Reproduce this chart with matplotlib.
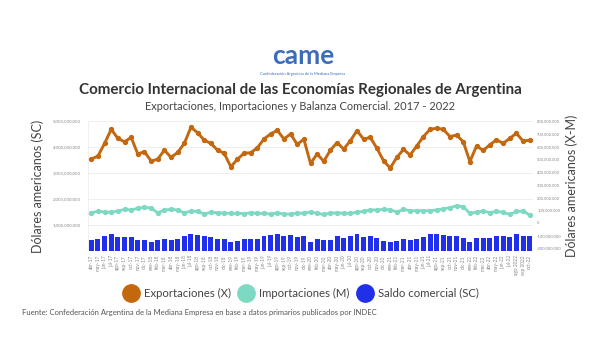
import numpy as np
import matplotlib
matplotlib.use("Agg")
import matplotlib.pyplot as plt
from matplotlib.lines import Line2D
from matplotlib.ticker import FuncFormatter, FixedLocator

plt.rcParams['font.family'] = ['Lato', 'DejaVu Sans']

# meses abr-17 .. oct-22
meses_es = ["ene", "feb", "mar", "abr", "may", "jun", "jul", "ago", "sep", "oct", "nov", "dic"]
etiquetas = []
for anio in range(2017, 2023):
    for m in range(12):
        if anio == 2017 and m < 3:
            continue
        if anio == 2022 and m > 9:
            continue
        etiquetas.append(f"{meses_es[m]}-{str(anio)[2:]}")
etiquetas[-3] = "ago 2022"
etiquetas[-2] = "sep 2022"

# Exportaciones (X), miles de millones USD
exportaciones = [3.54, 3.65, 4.14, 4.68, 4.33, 4.20, 4.37, 3.73, 3.82, 3.46,
                 3.53, 3.88, 3.60, 3.79, 4.14, 4.76, 4.55, 4.26, 4.14, 3.88,
                 3.76, 3.24, 3.53, 3.76, 3.78, 3.97, 4.31, 4.50, 4.64, 4.31,
                 4.50, 4.10, 4.30, 3.37, 3.73, 3.45, 3.88, 4.17, 3.92, 4.24,
                 4.63, 4.30, 4.37, 3.95, 3.47, 3.19, 3.60, 3.91, 3.69, 4.04,
                 4.40, 4.68, 4.72, 4.68, 4.40, 4.46, 4.20, 3.44, 4.04, 3.87,
                 4.08, 4.28, 4.14, 4.33, 4.53, 4.23, 4.26]

# Importaciones (M)
importaciones = [1.47, 1.53, 1.50, 1.49, 1.54, 1.60, 1.58, 1.64, 1.68, 1.65,
                 1.47, 1.58, 1.60, 1.58, 1.47, 1.53, 1.53, 1.42, 1.49, 1.47,
                 1.46, 1.45, 1.45, 1.44, 1.47, 1.45, 1.45, 1.42, 1.47, 1.42,
                 1.42, 1.45, 1.46, 1.50, 1.45, 1.41, 1.45, 1.47, 1.45, 1.45,
                 1.49, 1.53, 1.58, 1.58, 1.60, 1.58, 1.50, 1.60, 1.55, 1.55,
                 1.55, 1.55, 1.58, 1.62, 1.67, 1.74, 1.70, 1.45, 1.49, 1.54,
                 1.48, 1.52, 1.49, 1.41, 1.52, 1.54, 1.38]

# Saldo comercial (SC)
saldo = [0.42, 0.46, 0.59, 0.64, 0.54, 0.54, 0.54, 0.41, 0.44, 0.35,
         0.41, 0.46, 0.42, 0.46, 0.56, 0.64, 0.62, 0.58, 0.54, 0.47,
         0.47, 0.35, 0.40, 0.46, 0.46, 0.46, 0.59, 0.60, 0.64, 0.59,
         0.62, 0.54, 0.56, 0.36, 0.46, 0.41, 0.42, 0.56, 0.51, 0.56,
         0.64, 0.54, 0.58, 0.51, 0.40, 0.33, 0.38, 0.46, 0.42, 0.47,
         0.53, 0.64, 0.64, 0.62, 0.56, 0.56, 0.51, 0.33, 0.50, 0.50,
         0.50, 0.56, 0.56, 0.54, 0.64, 0.58, 0.58]

c_x = "#C4680F"
c_m = "#7ED9C3"
c_sc = "#1F2FEA"

x = np.arange(len(etiquetas))
exp_v = np.array(exportaciones) * 1e9
imp_v = np.array(importaciones) * 1e9
sc_v = np.array(saldo) * 1e9

fig = plt.figure(figsize=(6, 3.6), dpi=100)
ax = fig.add_axes([88 / 600, 1 - 251 / 360, 445 / 600, 130 / 360])

ax.bar(x, sc_v, width=0.75, color=c_sc, zorder=2)
ax.plot(x, imp_v, color=c_m, lw=2.0, marker='o', ms=2.8, zorder=3)
ax.plot(x, exp_v, color=c_x, lw=2.1, marker='o', ms=2.8, zorder=4)

ax.set_xlim(-0.5, len(x) - 0.5)
ax.set_ylim(0, 5e9)
ax.yaxis.set_major_locator(FixedLocator([1e9, 2e9, 3e9, 4e9, 5e9]))
ax.yaxis.set_major_formatter(FuncFormatter(lambda v, p: f"{v:,.0f}"))
ax.grid(axis='y', color='#ececec', lw=0.6, zorder=0)
for s in ['top', 'right', 'bottom']:
    ax.spines[s].set_visible(False)
ax.spines['left'].set_color('#eeeeee')
ax.spines['left'].set_linewidth(0.6)
ax.tick_params(axis='y', length=0, labelsize=3.2, labelcolor='#888888', pad=5)
ax.set_xticks(x)
ax.set_xticklabels(etiquetas, rotation=90, fontsize=3.4, color='#888888')
ax.tick_params(axis='x', length=0, pad=3)

ax2 = ax.twinx()
ax2.set_ylim(-220e6, 800e6)
ax2.yaxis.set_major_locator(FixedLocator(np.arange(-200e6, 801e6, 100e6)))
ax2.yaxis.set_major_formatter(FuncFormatter(lambda v, p: f"{v:,.0f}"))
for s in ax2.spines.values():
    s.set_visible(False)
ax2.tick_params(axis='y', length=0, labelsize=2.9, labelcolor='#888888', pad=3)

fig.text(38 / 600, 1 - 186 / 360, "Dólares americanos (SC)", rotation=90,
         ha='center', va='center', fontsize=9, color='#444444')
fig.text(572 / 600, 1 - 186 / 360, "Dólares americanos (X-M)", rotation=90,
         ha='center', va='center', fontsize=9, color='#444444')

# logo y títulos
fig.text(303 / 600, 1 - 56 / 360, "came", ha='center', va='center', fontsize=19,
         fontweight='bold', color='#3D6DBA')
fig.text(303 / 600, 1 - 74 / 360, "Confederación Argentina de la Mediana Empresa",
         ha='center', va='center', fontsize=2.9, color='#3D6DBA')
fig.text(0.5, 1 - 90 / 360, "Comercio Internacional de las Economías Regionales de Argentina",
         ha='center', va='center', fontsize=10.9, fontweight='bold', color='#333333')
fig.text(0.5, 1 - 106 / 360, "Exportaciones, Importaciones y Balanza Comercial. 2017 - 2022",
         ha='center', va='center', fontsize=7.9, color='#444444')

handles = [Line2D([], [], ls='none', marker='o', ms=12.5, color=c_x, label='Exportaciones (X)'),
           Line2D([], [], ls='none', marker='o', ms=12.5, color=c_m, label='Importaciones (M)'),
           Line2D([], [], ls='none', marker='o', ms=12.5, color=c_sc, label='Saldo comercial (SC)')]
leg = fig.legend(handles=handles, loc='center', bbox_to_anchor=(302 / 600, 1 - 293 / 360),
                 ncol=3, frameon=False, fontsize=8.2, handletextpad=0.6, columnspacing=0.9,
                 handlelength=1.0)
for t in leg.get_texts():
    t.set_color('#444444')

fig.text(22 / 600, 1 - 313 / 360,
         "Fuente: Confederación Argentina de la Mediana Empresa en base a datos primarios publicados por INDEC",
         ha='left', va='center', fontsize=5.5, color='#555555')

fig.savefig("out.png", dpi=100)
